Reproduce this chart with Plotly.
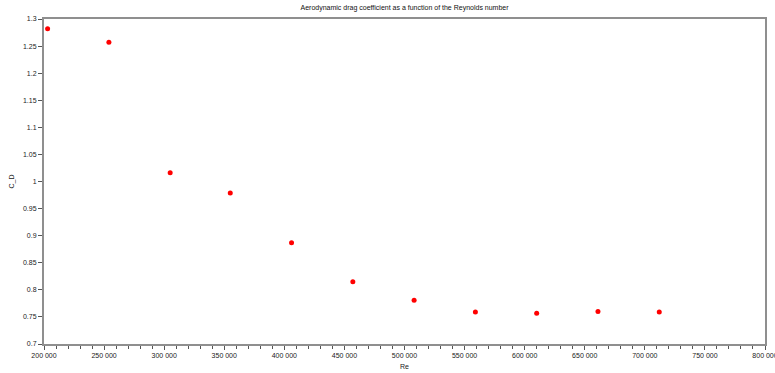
import plotly.graph_objects as go

re_vals = [203000, 254000, 305000, 355000, 406000, 457000, 508000, 559000, 610000, 661000, 712000]
cd_vals = [1.282, 1.257, 1.016, 0.979, 0.887, 0.815, 0.781, 0.759, 0.757, 0.760, 0.759]

title = "Aerodynamic drag coefficient as a function of the Reynolds number"
font_family = "Liberation Sans, Arial, sans-serif"

fig = go.Figure()
fig.add_trace(go.Scatter(
    x=re_vals, y=cd_vals, mode="markers",
    marker=dict(color="#ff0000", size=5, line=dict(width=0)),
    showlegend=False,
))

axis_common = dict(
    showline=True, linecolor="#8f8f8f", linewidth=2, mirror=True,
    showgrid=False, zeroline=False, automargin=False,
    ticks="outside", ticklen=4, tickwidth=1, tickcolor="#555555",
    ticklabeloverflow="allow",
    tickfont=dict(size=7, color="#222222", family=font_family),
)

fig.update_layout(
    template="none",
    width=775, height=373,
    margin=dict(l=44, r=10, t=19, b=29, autoexpand=False),
    paper_bgcolor="white", plot_bgcolor="white",
    separators=". ",
    title=dict(text=title, x=0.522, xanchor="center", y=0.985, yanchor="top",
               font=dict(size=7, color="#111111", family=font_family)),
    xaxis=dict(range=[200000, 800000.5], tick0=200000, dtick=50000, tickformat=",d",
               minor=dict(ticks="outside", dtick=10000, ticklen=3, tickcolor="#555555"),
               title=dict(text="Re", standoff=6, font=dict(size=7, color="#222222", family=font_family)),
               **axis_common),
    yaxis=dict(range=[0.7, 1.3], dtick=0.05,
               title=dict(text="C_D", standoff=8, font=dict(size=7, color="#222222", family=font_family)),
               **axis_common),
)

fig.write_html("out.html")
